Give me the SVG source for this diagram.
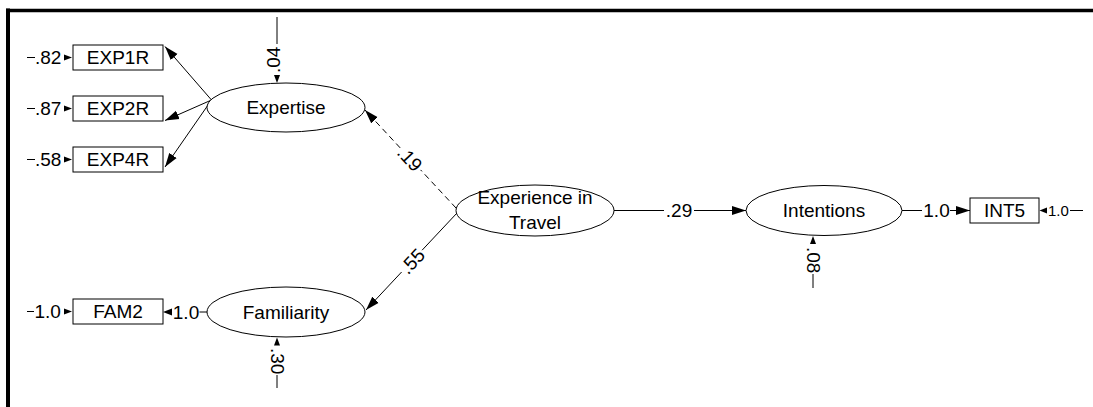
<svg xmlns="http://www.w3.org/2000/svg" width="1093" height="407" viewBox="0 0 1093 407">
<style>
text{font-family:"Liberation Sans",Arial,sans-serif;font-size:19px;fill:#000}
.box{fill:#fff;stroke:#000;stroke-width:1}
.ell{fill:#fff;stroke:#000;stroke-width:1}
.c{text-anchor:middle}
.ln{stroke:#000;stroke-width:1;fill:none}
.dash{stroke-dasharray:6,4}
.ah{fill:#000;stroke:none}
.sm{font-size:15px}
.frame{stroke:#000;fill:none}
</style>
<defs>
<marker id="big" markerUnits="userSpaceOnUse" markerWidth="14" markerHeight="10" refX="14" refY="5" orient="auto" viewBox="0 0 14 10"><path d="M0,0.5 L14,5 L0,9.5 z" fill="#000"/></marker>
</defs>
<rect width="1093" height="407" fill="#fff"/>
<g id="frame">
<line class="frame" x1="8" y1="8.5" x2="8" y2="407" stroke-width="4"/>
<line class="frame" x1="6" y1="10.5" x2="1093" y2="10.5" stroke-width="3.5"/>
</g>
<g id="connectors">
<line class="ln" x1="211.5" y1="100" x2="165" y2="46.5" marker-end="url(#big)"/>
<line class="ln" x1="211.5" y1="100" x2="165" y2="120.5" marker-end="url(#big)"/>
<line class="ln" x1="211.5" y1="100" x2="165" y2="167" marker-end="url(#big)"/>
<line class="ln dash" x1="456" y1="208" x2="420.6" y2="169.9"/>
<line class="ln dash" x1="400.2" y1="147.9" x2="365" y2="110" marker-end="url(#big)"/>
<text class="c" transform="translate(410,158.5) rotate(47)" dy="7">.19</text>
<line class="ln" x1="457" y1="213" x2="422.1" y2="250.2"/>
<line class="ln" x1="401.6" y1="272" x2="366" y2="310" marker-end="url(#big)"/>
<text class="c" transform="translate(412,261) rotate(-47)" dy="7">.55</text>
<line class="ln" x1="614" y1="210.5" x2="664" y2="210.5"/>
<text class="c" x="679" y="217.3">.29</text>
<line class="ln" x1="694" y1="210.5" x2="746" y2="210.5" marker-end="url(#big)"/>
<line class="ln" x1="902" y1="210.5" x2="922" y2="210.5"/>
<text class="c" x="936.5" y="217.3">1.0</text>
<line class="ln" x1="950" y1="210.5" x2="970" y2="210.5" marker-end="url(#big)"/>
<line class="ln" x1="207" y1="312" x2="199.5" y2="312"/>
<text class="c" x="186" y="318.8">1.0</text>
<polygon class="ah" points="163,312 172,308.5 172,315.5"/>
</g>
<g id="errors">
<line class="ln" x1="27" y1="57.5" x2="35" y2="57.5"/>
<text x="35" y="64.3">.82</text>
<polygon class="ah" points="72,57.5 64,54.5 64,60.5"/>
<line class="ln" x1="27" y1="108.5" x2="35" y2="108.5"/>
<text x="35" y="115.3">.87</text>
<polygon class="ah" points="72,108.5 64,105.5 64,111.5"/>
<line class="ln" x1="27" y1="159.5" x2="35" y2="159.5"/>
<text x="35" y="166.3">.58</text>
<polygon class="ah" points="72,159.5 64,156.5 64,162.5"/>
<line class="ln" x1="27" y1="311.5" x2="34" y2="311.5"/>
<text x="34.5" y="318.3">1.0</text>
<polygon class="ah" points="72,311.5 64,308.5 64,314.5"/>
<polygon class="ah" points="1039.5,210.5 1047,207.5 1047,213.5"/>
<text class="sm" x="1048" y="215.8">1.0</text>
<line class="ln" x1="1070" y1="210.5" x2="1083" y2="210.5"/>
<line class="ln" x1="277" y1="17" x2="277" y2="44"/>
<text transform="translate(280,73) rotate(-90)">.04</text>
<polygon class="ah" points="277,83 274,75 280,75"/>
<polygon class="ah" points="813,236 810,244 816,244"/>
<text transform="translate(807,247) rotate(90)">.08</text>
<line class="ln" x1="813" y1="274" x2="813" y2="288"/>
<polygon class="ah" points="277,337.5 274,345.5 280,345.5"/>
<text transform="translate(271,348) rotate(90)">.30</text>
<line class="ln" x1="277" y1="375" x2="277" y2="388"/>
</g>
<g id="EXP1R"><rect class="box" x="73" y="45" width="90" height="25"/><text class="c" x="118" y="64.3">EXP1R</text></g>
<g id="EXP2R"><rect class="box" x="73" y="96" width="90" height="25"/><text class="c" x="118" y="115.3">EXP2R</text></g>
<g id="EXP4R"><rect class="box" x="73" y="147" width="90" height="25"/><text class="c" x="118" y="166.3">EXP4R</text></g>
<g id="FAM2"><rect class="box" x="73" y="299" width="90" height="25"/><text class="c" x="118" y="318.3">FAM2</text></g>
<g id="INT5"><rect class="box" x="970" y="198" width="69" height="25"/><text class="c" x="1004.5" y="217.3">INT5</text></g>
<g id="Expertise"><ellipse class="ell" cx="286" cy="107.5" rx="79" ry="24.5"/><text class="c" x="286" y="114.3">Expertise</text></g>
<g id="Experience"><ellipse class="ell" cx="535" cy="210.5" rx="79" ry="25.5"/><text class="c" x="535" y="204">Experience in</text><text class="c" x="535" y="229">Travel</text></g>
<g id="Intentions"><ellipse class="ell" cx="824" cy="210.5" rx="78" ry="25"/><text class="c" x="824" y="217.3">Intentions</text></g>
<g id="Familiarity"><ellipse class="ell" cx="286" cy="312" rx="79" ry="25"/><text class="c" x="286" y="318.8">Familiarity</text></g>
</svg>
